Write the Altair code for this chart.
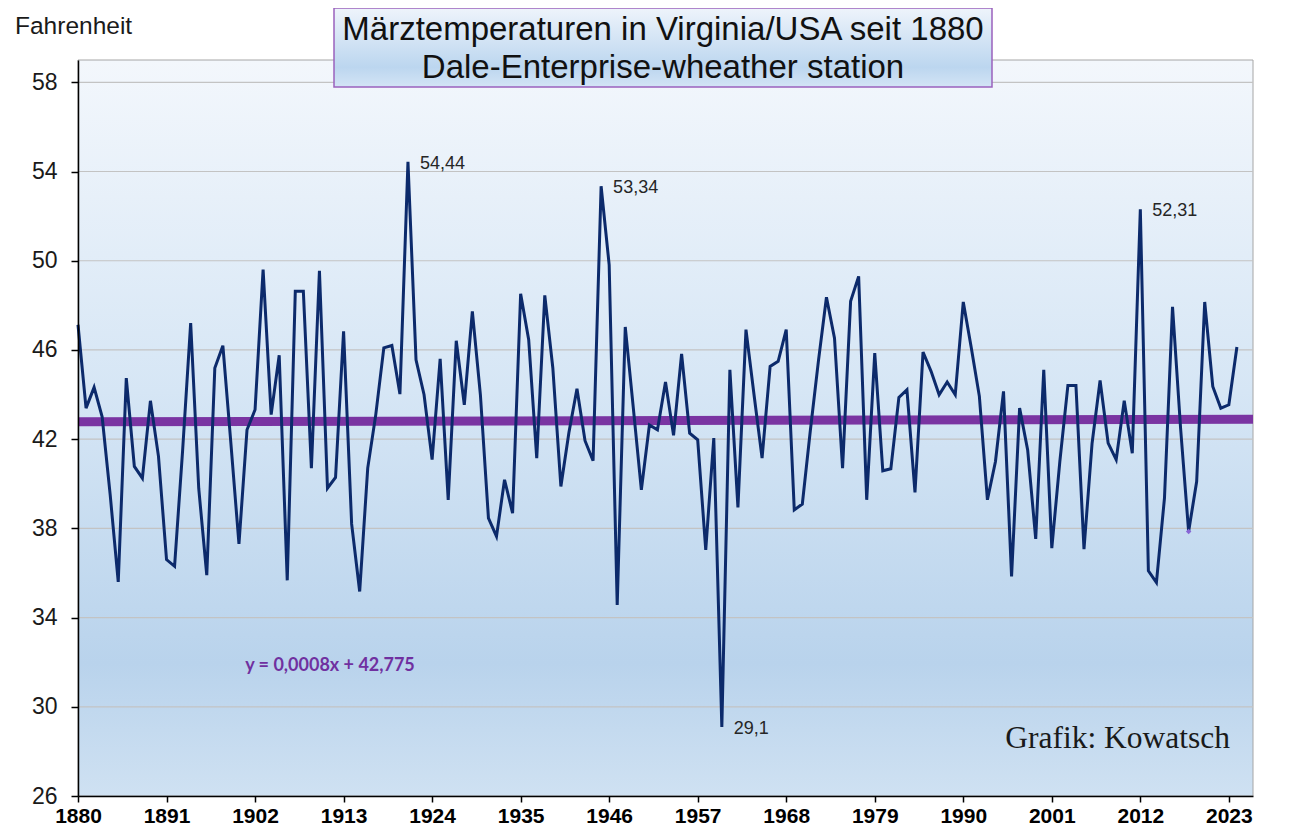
import altair as alt
import pandas as pd

# ---------------- data ----------------
years = list(range(1880, 2025))
temps = [
    47.13, 43.39, 44.32, 43.0, 39.5, 35.6, 44.74, 40.78, 40.25, 43.72,   # 1880-1889
    41.23, 36.6, 36.3, 41.5, 47.2, 39.8, 35.9, 45.19, 46.19, 41.8,       # 1890-1899
    37.3, 42.42, 43.32, 49.6, 43.1, 45.76, 35.67, 48.63, 48.63, 40.7,    # 1900-1909
    49.55, 39.8, 40.28, 46.83, 38.2, 35.17, 40.7, 43.1, 46.09, 46.2,     # 1910-1919
    44.02, 54.44, 45.56, 43.99, 41.08, 45.6, 39.28, 46.41, 43.54, 47.73, # 1920-1929
    43.99, 38.46, 37.64, 40.18, 38.68, 48.52, 46.46, 41.15, 48.45, 45.19,# 1930-1939
    39.88, 42.3, 44.26, 41.93, 41.03, 53.34, 49.82, 34.57, 47.03, 43.4,  # 1940-1949
    39.73, 42.64, 42.42, 44.56, 42.17, 45.82, 42.27, 41.97, 37.04, 42.05,# 1950-1959
    29.1, 45.11, 38.94, 46.91, 43.99, 41.15, 45.26, 45.49, 46.91, 38.83, # 1960-1969
    39.09, 42.4, 45.5, 48.36, 46.53, 40.7, 48.18, 49.3, 39.28, 45.86,    # 1970-1979
    40.58, 40.67, 43.87, 44.21, 39.61, 45.9, 45.04, 43.99, 44.56, 43.99, # 1980-1989
    48.15, 46.09, 43.92, 39.28, 41.0, 44.14, 35.84, 43.39, 41.52, 37.53, # 1990-1999
    45.11, 37.11, 41.0, 44.41, 44.41, 37.07, 41.8, 44.63, 41.82, 41.08,  # 2000-2009
    43.72, 41.37, 52.31, 36.1, 35.57, 39.36, 47.93, 42.5, 37.86, 40.1,   # 2010-2019
    48.15, 44.36, 43.39, 43.54, 46.13,                                   # 2020-2024
]
assert len(years) == len(temps)

label_years = [1921, 1945, 1960, 2012]
label_values = [54.44, 53.34, 29.1, 52.31]
label_texts = ["54,44", "53,34", "29,1", "52,31"]

marker_years = [2018]
marker_values = [37.86]

# Excel trend line  y = 0,0008x + 42,775  (x = running index)
trend_slope = 0.0008
trend_intercept = 42.775
trend_years = [1880, 2026]
trend_values = [trend_slope * (y - 1879) + trend_intercept for y in trend_years]

x_ticks = [1880, 1891, 1902, 1913, 1924, 1935, 1946, 1957, 1968, 1979, 1990, 2001, 2012, 2023]
y_ticks = [26, 30, 34, 38, 42, 46, 50, 54, 58]
grid_values = [30, 34, 38, 42, 46, 50, 54, 58]

title_lines = ["Märztemperaturen in Virginia/USA seit 1880", "Dale-Enterprise-wheather station"]
y_unit = "Fahrenheit"
equation = "y = 0,0008x + 42,775"
credit = "Grafik: Kowatsch"

# ---------------- layout ----------------
W, H = 1175, 736
FONT = "Liberation Sans"

df = pd.DataFrame({"year": years, "temp": temps})
df_lab = pd.DataFrame({"year": label_years, "temp": label_values, "text": label_texts})
df_mark = pd.DataFrame({"year": marker_years, "temp": marker_values})
df_trend = pd.DataFrame({"year": trend_years, "temp": trend_values})
df_grid = pd.DataFrame({"v": grid_values})
one = pd.DataFrame({"a": [0]})

xscale = alt.Scale(domain=[1880, 2026], nice=False, zero=False)
yscale = alt.Scale(domain=[26, 59], nice=False, zero=False)

xaxis = alt.Axis(values=x_ticks, format="d", grid=False, domainColor="black", domainWidth=1.5,
                 tickColor="black", tickSize=6, tickWidth=1.5, labelFont=FONT, labelFontSize=21,
                 labelFontWeight="bold", labelColor="black", labelPadding=3, title=None, zindex=1,
                 labelOverlap=False, labelFlush=False)
yaxis = alt.Axis(values=y_ticks, grid=False, domainColor="black", domainWidth=1.5,
                 tickColor="black", tickSize=7, tickWidth=1.5, labelFont=FONT, labelFontSize=23,
                 labelColor="#1a1a1a", labelPadding=14, title=None, zindex=1, labelFlush=False)

bg_grad = alt.Gradient(
    gradient="linear", x1=0, y1=0, x2=0, y2=1,
    stops=[alt.GradientStop(color="#f3f7fc", offset=0),
           alt.GradientStop(color="#d6e6f5", offset=0.45),
           alt.GradientStop(color="#b9d3ec", offset=0.82),
           alt.GradientStop(color="#cfe1f2", offset=1)],
)
box_grad = alt.Gradient(
    gradient="linear", x1=0, y1=0, x2=0, y2=1,
    stops=[alt.GradientStop(color="#eef4fb", offset=0),
           alt.GradientStop(color="#bcd6ef", offset=0.75),
           alt.GradientStop(color="#d3e4f5", offset=1)],
)

background = alt.Chart(one).mark_rect(fill=bg_grad, stroke="#a6a6a6", strokeWidth=1).encode(
    x=alt.value(0), x2=alt.value(W), y=alt.value(0), y2=alt.value(H)
)

grid = alt.Chart(df_grid).mark_rule(color="#c3c3c3", strokeWidth=1.2).encode(
    y=alt.Y("v:Q", scale=yscale, axis=yaxis)
)

line = alt.Chart(df).mark_line(color="#0c2a6b", strokeWidth=3).encode(
    x=alt.X("year:Q", scale=xscale, axis=xaxis),
    y=alt.Y("temp:Q", scale=yscale, axis=yaxis),
)

trend = alt.Chart(df_trend).mark_line(color="#7a34a2", strokeWidth=9).encode(
    x=alt.X("year:Q", scale=xscale, axis=xaxis), y=alt.Y("temp:Q", scale=yscale, axis=yaxis)
)

marker = alt.Chart(df_mark).mark_point(shape="diamond", filled=True, color="#8866d6", size=30, opacity=1).encode(
    x=alt.X("year:Q", scale=xscale, axis=xaxis), y=alt.Y("temp:Q", scale=yscale, axis=yaxis)
)

labels = alt.Chart(df_lab).mark_text(align="left", baseline="middle", dx=12, dy=2,
                                     font=FONT, fontSize=18, color="#262626").encode(
    x=alt.X("year:Q", scale=xscale, axis=xaxis), y=alt.Y("temp:Q", scale=yscale, axis=yaxis),
    text="text:N"
)

eq_text = alt.Chart(one).mark_text(text=equation, align="center", baseline="middle",
                                   font="Lato", fontSize=18, fontWeight="bold", color="#7030a0").encode(
    x=alt.value(252), y=alt.value(606)
)

credit_text = alt.Chart(one).mark_text(text=credit, align="right", baseline="middle",
                                       font="Liberation Serif", fontSize=31.5, color="#1a1a1a").encode(
    x=alt.value(1152), y=alt.value(679)
)

unit_text = alt.Chart(one).mark_text(text=y_unit, align="left", baseline="middle",
                                     font=FONT, fontSize=24.5, color="#1a1a1a").encode(
    x=alt.value(-63), y=alt.value(-33)
)

title_box = alt.Chart(one).mark_rect(fill=box_grad, stroke="#9a62bd", strokeWidth=1.5).encode(
    x=alt.value(256), x2=alt.value(914), y=alt.value(-52), y2=alt.value(27)
)
title1 = alt.Chart(one).mark_text(text=title_lines[0], align="center", baseline="middle",
                                  font=FONT, fontSize=33, color="#111111").encode(
    x=alt.value(585), y=alt.value(-30)
)
title2 = alt.Chart(one).mark_text(text=title_lines[1], align="center", baseline="middle",
                                  font=FONT, fontSize=33, color="#111111").encode(
    x=alt.value(585), y=alt.value(8)
)

chart = alt.layer(
    background, grid, trend, line, marker, labels, eq_text, credit_text,
    unit_text, title_box, title1, title2
).properties(
    width=W, height=H,
    autosize=alt.AutoSizeParams(type="none"),
    padding={"left": 70, "top": 52, "right": 30, "bottom": 29},
    background="white",
).configure_view(stroke=None)

chart.save("out.html", embed_options={"renderer": "svg", "actions": False})
